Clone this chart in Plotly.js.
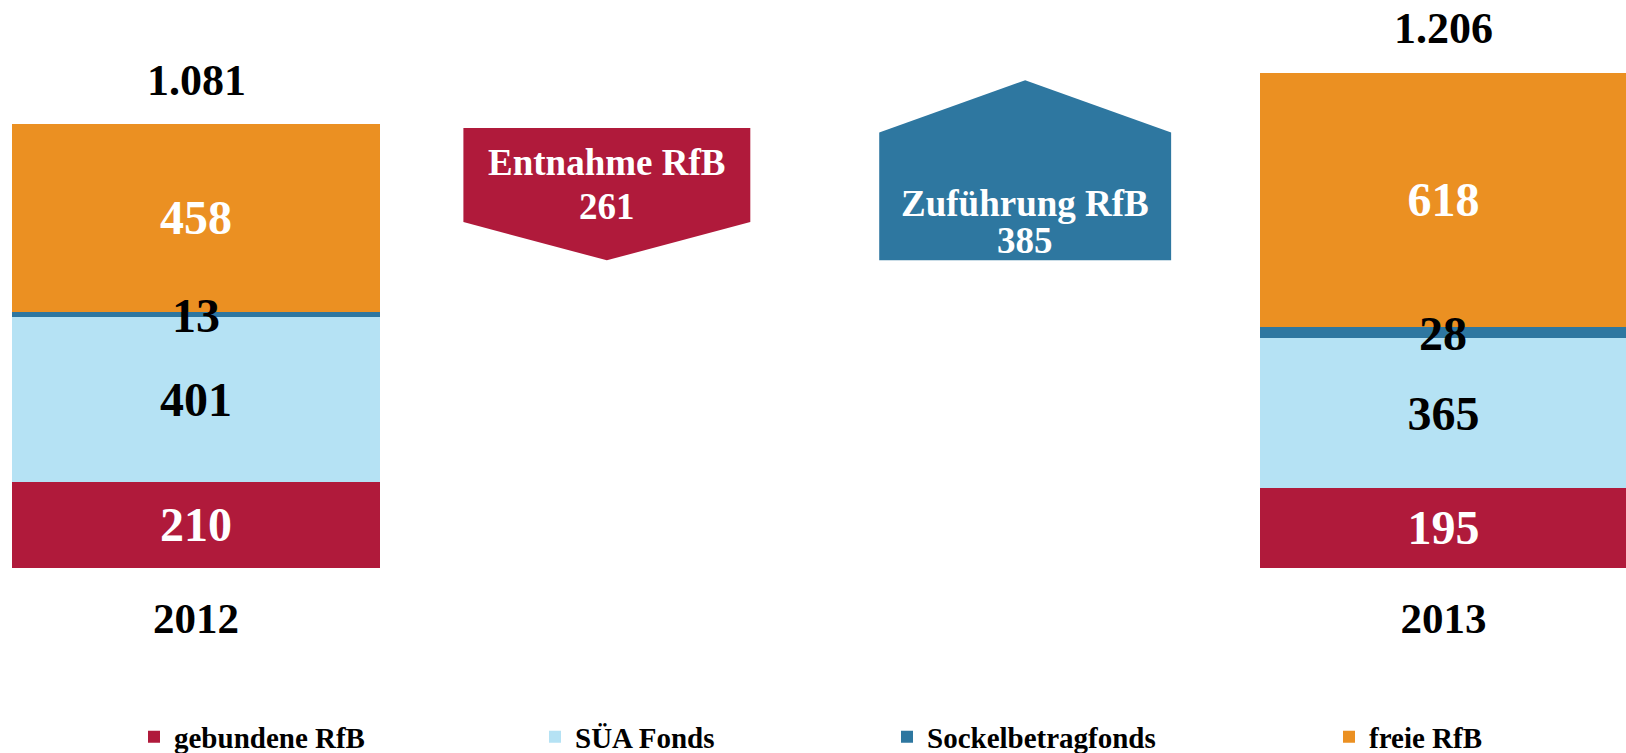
<!DOCTYPE html>
<html>
<head>
<meta charset="utf-8">
<script src="https://cdn.plot.ly/plotly-3.0.1.min.js"></script>
<style>html,body{margin:0;padding:0;background:#fff;}#chart{width:1626px;height:753px;}</style>
</head>
<body>
<div id="chart"></div>
<script>
// ---- data ----
const categories = ['2012', '2013'];
const seriesNames = ['gebundene RfB', 'SÜA Fonds', 'Sockelbetragfonds', 'freie RfB'];
const gebundeneRfB = [210, 195];
const sueaFonds = [401, 365];
const sockelbetragfonds = [13, 28];
const freieRfB = [458, 618];
const totals = [1081, 1206];
const flowLabels = ['Entnahme RfB', 'Zuführung RfB'];
const flowValues = [261, 385];

// ---- styles / layout constants ----
const FONT = 'Liberation Serif, Times New Roman, serif';
const colors = ['#B01A3B', '#B5E2F4', '#2E77A0', '#EB9022'];
const textColors = ['#ffffff', '#000000', '#000000', '#ffffff'];
const barX = [0, 3];
const flowX = [0.988, 1.994];
const barWidth = 0.883;
const W = 1626, H = 753;
const pxPerUnit = 0.4105;
const zeroPx = 568; // pixel row of value 0

const seriesValues = [gebundeneRfB, sueaFonds, sockelbetragfonds, freieRfB];
const legendIds = ['legend', 'legend2', 'legend3', 'legend4'];
const thinSeries = 2; // labels drawn as annotations so they sit above neighbouring segments

const traces = seriesValues.map((vals, i) => ({
  type: 'bar',
  name: seriesNames[i],
  x: barX,
  y: vals,
  width: barWidth,
  marker: {color: colors[i], line: {width: 0}},
  text: i === thinSeries ? null : vals.map(v => String(v)),
  textposition: i === thinSeries ? 'none' : 'inside',
  insidetextanchor: 'middle',
  constraintext: 'none',
  textangle: 0,
  textfont: {family: FONT, size: 48, color: textColors[i], weight: 'bold'},
  hoverinfo: 'skip',
  legend: legendIds[i]
}));

function fmtDE(n) {
  return String(n).replace(/\B(?=(\d{3})+(?!\d))/g, '.');
}

// arrow geometry derived from flow values
const baseLevel = totals[0] - 1.27 * flowValues[0];
const entTop = baseLevel + 1.235 * flowValues[0];
const zuTop = baseLevel + 1.14 * flowValues[1];
const shoulderFrac = 0.71;
const halfW = [0.345, 0.351];

function downArrow(xc, hw, top, tip) {
  const s = top - shoulderFrac * (top - tip);
  return `M${xc-hw},${top} L${xc+hw},${top} L${xc+hw},${s} L${xc},${tip} L${xc-hw},${s} Z`;
}
function upArrow(xc, hw, bottom, tip) {
  const s = bottom + shoulderFrac * (tip - bottom);
  return `M${xc-hw},${bottom} L${xc+hw},${bottom} L${xc+hw},${s} L${xc},${tip} L${xc-hw},${s} Z`;
}

const shapes = [
  {type: 'path', xref: 'x', yref: 'y', path: downArrow(flowX[0], halfW[0], entTop, baseLevel),
   fillcolor: colors[0], line: {width: 0}, layer: 'below'},
  {type: 'path', xref: 'x', yref: 'y', path: upArrow(flowX[1], halfW[1], baseLevel, zuTop),
   fillcolor: colors[2], line: {width: 0}, layer: 'below'}
];

const annFont = {family: FONT, size: 37, color: '#ffffff', weight: 'bold'};
const annotations = [];
// totals above bars
totals.forEach((t, i) => {
  annotations.push({
    x: barX[i], y: t, xref: 'x', yref: 'y', text: fmtDE(t), showarrow: false,
    yanchor: 'middle', yshift: 44,
    font: {family: FONT, size: 44, color: '#000000', weight: 'bold'}
  });
});
// thin segment labels
sockelbetragfonds.forEach((v, i) => {
  annotations.push({
    x: barX[i], y: gebundeneRfB[i] + sueaFonds[i] + v / 2, xref: 'x', yref: 'y',
    text: String(v), showarrow: false, yanchor: 'middle', yshift: -1,
    font: {family: FONT, size: 48, color: '#000000', weight: 'bold'}
  });
});
// Entnahme text
annotations.push({x: flowX[0], y: entTop, xref: 'x', yref: 'y', text: flowLabels[0], showarrow: false,
  yanchor: 'middle', yshift: -34, font: annFont});
annotations.push({x: flowX[0], y: entTop, xref: 'x', yref: 'y', text: String(flowValues[0]), showarrow: false,
  yanchor: 'middle', yshift: -78, font: annFont});
// Zuführung text
annotations.push({x: flowX[1], y: baseLevel, xref: 'x', yref: 'y', text: flowLabels[1], showarrow: false,
  yanchor: 'middle', yshift: 57, font: annFont});
annotations.push({x: flowX[1], y: baseLevel, xref: 'x', yref: 'y', text: String(flowValues[1]), showarrow: false,
  yanchor: 'middle', yshift: 20, font: annFont});

const legFont = {family: FONT, size: 29, color: '#000000', weight: 'bold'};
const legendX = [134, 535, 887, 1329];
function legendCfg(px) {
  return {x: px / W, xanchor: 'left', y: 16 / H, yanchor: 'middle', orientation: 'h',
          font: legFont, bgcolor: 'rgba(0,0,0,0)', borderwidth: 0, itemclick: false, itemdoubleclick: false};
}

const layout = {
  width: W, height: H,
  margin: {l: 0, r: 0, t: 0, b: 0, pad: 0, autoexpand: false},
  paper_bgcolor: '#ffffff', plot_bgcolor: '#ffffff',
  barmode: 'stack',
  showlegend: true,
  xaxis: {
    range: [-0.4714, 3.4389], tickmode: 'array', tickvals: barX, ticktext: categories,
    anchor: 'free', position: (H - zeroPx) / H,
    showgrid: false, zeroline: false, showline: false, ticks: '', ticklabelstandoff: 21,
    tickfont: {family: FONT, size: 43, color: '#000000', weight: 'bold'}, fixedrange: true
  },
  yaxis: {range: [-(H - zeroPx) / pxPerUnit, zeroPx / pxPerUnit], visible: false, fixedrange: true},
  shapes: shapes,
  annotations: annotations,
  legend: legendCfg(legendX[0]),
  legend2: legendCfg(legendX[1]),
  legend3: legendCfg(legendX[2]),
  legend4: legendCfg(legendX[3])
};

Plotly.newPlot('chart', traces, layout, {displayModeBar: false, staticPlot: true});
</script>
</body>
</html>
